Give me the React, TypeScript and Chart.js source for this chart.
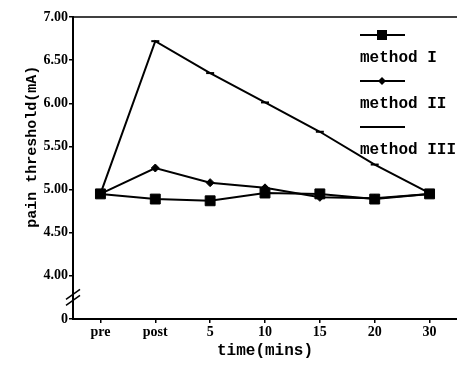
import React, { useEffect, useRef } from 'react';
import { Chart, registerables } from 'chart.js';

Chart.register(...registerables);

const categories = ['pre', 'post', '5', '10', '15', '20', '30'];
const method1 = [4.95, 4.89, 4.87, 4.96, 4.95, 4.89, 4.95];
const method2 = [4.95, 5.25, 5.08, 5.02, 4.91, 4.90, 4.95];
const method3 = [4.95, 6.72, 6.35, 6.01, 5.67, 5.29, 4.96];
const seriesLabels = ['method I', 'method II', 'method III'];
const seriesStyles = ['rect', 'rectRot', 'line'];
const yMin = 3.5;
const yMax = 7;
const yStep = 0.5;
const breakTickLabel = '0';
const yTitle = 'pain threshold(mA)';
const xTitle = 'time(mins)';

const decorPlugin = {
  id: 'decor',
  afterDraw(chart: any) {
    const { ctx, chartArea, scales } = chart;
    const y = scales.y;
    ctx.save();
    ctx.strokeStyle = '#000';
    ctx.fillStyle = '#000';
    ctx.lineWidth = 1.5;
    // top frame line
    ctx.beginPath();
    ctx.moveTo(chartArea.left, chartArea.top);
    ctx.lineTo(chartArea.right, chartArea.top);
    ctx.stroke();
    // axis break marks
    const by = y.getPixelForValue(yMin + yStep / 2);
    const bx = chartArea.left;
    for (const d of [-3, 3]) {
      ctx.beginPath();
      ctx.moveTo(bx - 7, by + d + 5);
      ctx.lineTo(bx + 7, by + d - 5);
      ctx.stroke();
    }
    // y title
    ctx.save();
    ctx.font = 'bold 15px "Liberation Mono"';
    ctx.textAlign = 'center';
    ctx.textBaseline = 'middle';
    ctx.translate(32, chartArea.top + (chartArea.bottom - chartArea.top) * 0.43);
    ctx.rotate(-Math.PI / 2);
    ctx.fillText(yTitle, 0, 0);
    ctx.restore();
    // legend
    const lx = chartArea.right - 97;
    chart.data.datasets.forEach((ds: any, i: number) => {
      const sy = 35 + 46 * i;
      const ty = 58 + 46 * i;
      ctx.lineWidth = 2;
      ctx.beginPath();
      ctx.moveTo(lx, sy);
      ctx.lineTo(lx + 45, sy);
      ctx.stroke();
      const cx = lx + 22;
      if (ds.pointStyle === 'rect') {
        ctx.fillRect(cx - 5, sy - 5, 10, 10);
      } else if (ds.pointStyle === 'rectRot') {
        ctx.beginPath();
        ctx.moveTo(cx, sy - 4);
        ctx.lineTo(cx + 4, sy);
        ctx.lineTo(cx, sy + 4);
        ctx.lineTo(cx - 4, sy);
        ctx.closePath();
        ctx.fill();
      }
      ctx.font = 'bold 16px "Liberation Mono"';
      ctx.textAlign = 'left';
      ctx.textBaseline = 'middle';
      ctx.fillText(ds.label, lx, ty);
    });
    ctx.restore();
  },
};

export default function App() {
  const ref = useRef<HTMLCanvasElement | null>(null);
  useEffect(() => {
    if (!ref.current) return;
    const values = [method1, method2, method3];
    const radii = [7, 4, 4];
    const chart = new Chart(ref.current, {
      type: 'line',
      data: {
        labels: categories,
        datasets: values.map((v, i) => ({
          label: seriesLabels[i],
          data: v,
          borderColor: '#000',
          backgroundColor: '#000',
          borderWidth: 2,
          pointStyle: seriesStyles[i] as any,
          pointRadius: radii[i],
          pointBorderWidth: i === 2 ? 2 : 1,
          pointBackgroundColor: '#000',
          pointBorderColor: '#000',
          tension: 0,
          clip: false as any,
        })),
      },
      options: {
        responsive: false,
        animation: false,
        layout: { autoPadding: false, padding: { top: 17, right: 0, left: 0, bottom: 0 } },
        plugins: { legend: { display: false }, tooltip: { enabled: false } },
        scales: {
          x: {
            type: 'category',
            offset: true,
            grid: { display: true, drawOnChartArea: false, offset: false, tickLength: 4, color: '#000', lineWidth: 1.5 },
            border: { display: true, color: '#000', width: 2 },
            ticks: { color: '#000', font: { family: '"Liberation Serif"', weight: 'bold', size: 14 }, padding: 1, maxRotation: 0 },
            title: { display: true, text: xTitle, color: '#000', font: { family: '"Liberation Mono"', weight: 'bold', size: 16 }, padding: { top: 0, bottom: 6 } },
            afterFit: (s: any) => { s.height = 48; s.paddingLeft = 0; s.paddingRight = 0; },
          },
          y: {
            min: yMin,
            max: yMax,
            grid: { display: true, drawOnChartArea: false, tickLength: 4, color: '#000', lineWidth: 1.5 },
            border: { display: true, color: '#000', width: 2 },
            ticks: {
              stepSize: yStep,
              color: '#000',
              padding: 1,
              font: { family: '"Liberation Serif"', weight: 'bold', size: 14 },
              callback: (v: any) => (Math.abs(v - yMin) < 1e-9 ? breakTickLabel : Number(v).toFixed(2)),
            },
            afterFit: (s: any) => { s.width = 73; },
          },
        },
      },
      plugins: [decorPlugin],
    });
    return () => chart.destroy();
  }, []);
  return (
    <div style={{ position: 'fixed', left: 0, top: 0, width: 457, height: 367, background: '#fff' }}>
      <canvas ref={ref} width={457} height={367} style={{ display: 'block' }} />
    </div>
  );
}
